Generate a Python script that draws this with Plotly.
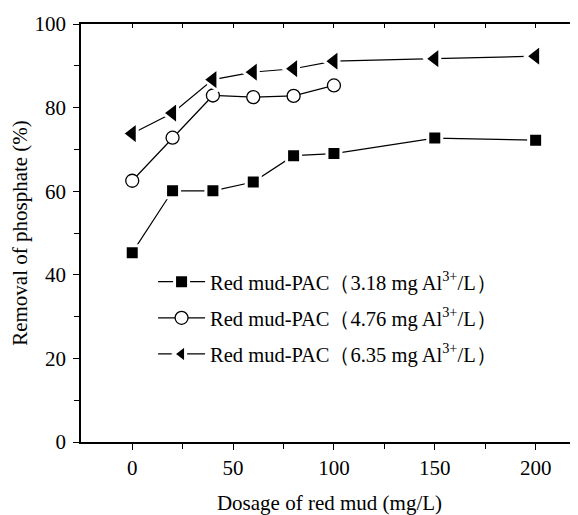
import plotly.graph_objects as go

dosage_a = [0, 20, 40, 60, 80, 100, 150, 200]
removal_318 = [45.3, 60.1, 60.1, 62.2, 68.5, 69.0, 72.7, 72.2]
dosage_b = [0, 20, 40, 60, 80, 100]
removal_476 = [62.5, 72.8, 82.9, 82.5, 82.8, 85.3]
dosage_c = [0, 20, 40, 60, 80, 100, 150, 200]
removal_635 = [73.8, 78.7, 86.7, 88.5, 89.3, 91.1, 91.7, 92.3]

names = [
    "Red mud-PAC（3.18 mg Al<sup>3+</sup>/L）",
    "Red mud-PAC（4.76 mg Al<sup>3+</sup>/L）",
    "Red mud-PAC（6.35 mg Al<sup>3+</sup>/L）",
]

FONT = "Liberation Serif"

fig = go.Figure()
fig.add_trace(go.Scatter(x=dosage_a, y=removal_318, mode="lines+markers", name=names[0],
                         legendgroup="a",
                         line=dict(color="black", width=1.2),
                         marker=dict(symbol="square", size=14, color="black",
                                     line=dict(width=3, color="white"))))
fig.add_trace(go.Scatter(x=dosage_b, y=removal_476, mode="lines+markers", name=names[1],
                         legendgroup="b",
                         line=dict(color="black", width=1.2),
                         marker=dict(symbol="circle", size=13, color="white",
                                     line=dict(width=1.3, color="black"))))
fig.add_trace(go.Scatter(x=dosage_c, y=removal_635, mode="lines+markers", name=names[2],
                         legendgroup="c",
                         line=dict(color="black", width=1.2),
                         marker=dict(symbol="triangle-left", size=20, color="black",
                                     line=dict(width=3, color="white"))))

# top axis with inward ticks
fig.add_trace(go.Scatter(x=[0], y=[0], xaxis="x2", showlegend=False, hoverinfo="skip",
                         mode="markers", marker=dict(opacity=0)))

# the page body adds an 8px offset, so the figure is 8px smaller and margins shifted
fig.update_layout(
    width=570, height=507,
    margin=dict(l=73, r=0, t=16, b=73),
    paper_bgcolor="white", plot_bgcolor="white",
    font=dict(family=FONT, size=21, color="black"),
    showlegend=True,
    legend=dict(x=0.145, y=0.431, xanchor="left", yanchor="top",
                bgcolor="rgba(0,0,0,0)", font=dict(size=20.5, family=FONT),
                traceorder="grouped", tracegroupgap=6.5, itemwidth=47),
    xaxis=dict(range=[-25.4, 221], showgrid=False, zeroline=False, automargin=False,
               showline=True, linecolor="black", linewidth=1.5,
               tickvals=[0, 50, 100, 150, 200], ticks="outside", ticklen=6,
               tickwidth=1.3, tickcolor="black", ticklabelstandoff=0,
               minor=dict(tickvals=[25, 75, 125, 175], ticks="outside", ticklen=5,
                          tickwidth=1.3, tickcolor="black"),
               tickfont=dict(size=21, family=FONT),
               title=dict(text="Dosage of red mud (mg/L)", font=dict(size=21, family=FONT),
                          standoff=21)),
    xaxis2=dict(overlaying="x", matches="x", side="top", showgrid=False, zeroline=False,
                automargin=False,
                showline=True, linecolor="black", linewidth=1.5,
                tickvals=[0, 50, 100, 150, 200], ticks="inside", ticklen=4,
                tickwidth=1.3, tickcolor="black", showticklabels=False,
                minor=dict(tickvals=[25, 75, 125, 175], ticks="inside", ticklen=4,
                           tickwidth=1.3, tickcolor="black")),
    yaxis=dict(range=[0, 100], showgrid=False, zeroline=False, automargin=False,
               showline=True, linecolor="black", linewidth=1.5,
               tickvals=[0, 20, 40, 60, 80, 100], ticks="outside", ticklen=6,
               tickwidth=1.3, tickcolor="black", ticklabelstandoff=3,
               minor=dict(tickvals=[10, 30, 50, 70, 90], ticks="outside", ticklen=5,
                          tickwidth=1.3, tickcolor="black"),
               tickfont=dict(size=21, family=FONT),
               title=dict(text="Removal of phosphate (%)", font=dict(size=21, family=FONT),
                          standoff=1)),
)

fig.write_html("out.html")
